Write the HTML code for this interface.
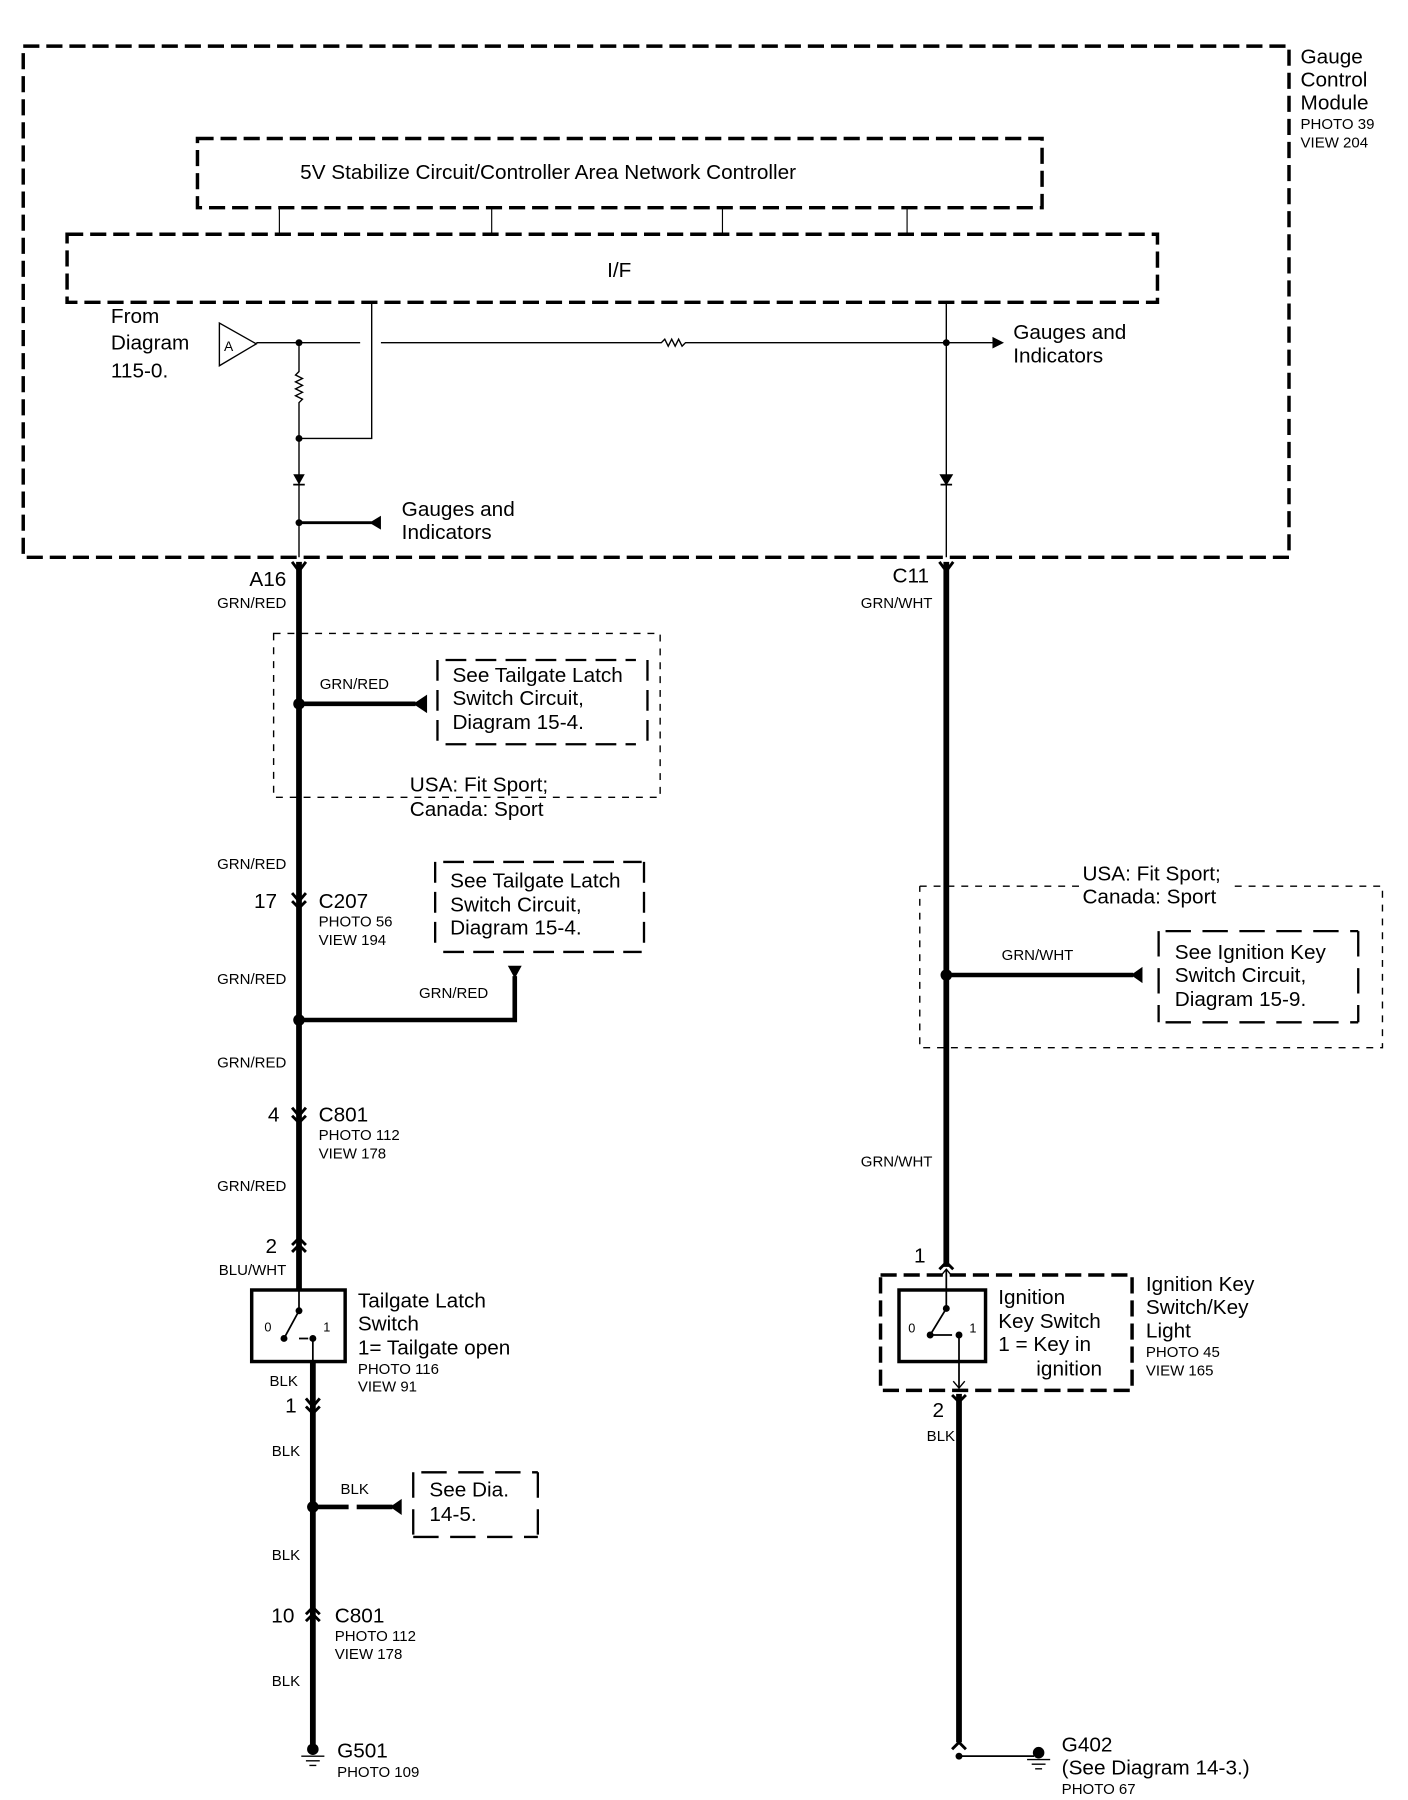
<!DOCTYPE html>
<html><head><meta charset="utf-8"><style>
html,body{margin:0;padding:0;background:#fff}
svg{display:block}
text{font-family:"Liberation Sans",sans-serif;fill:#000}
.b{font-size:18px}.s{font-size:13px}
</style></head><body>
<svg width="1408" height="1800" viewBox="0 0 1220 1560" xmlns="http://www.w3.org/2000/svg">
<g fill="none" stroke="#000">
<rect x="20" y="40" width="1097" height="443" stroke-width="3" stroke-dasharray="14,6"/>
<rect x="171" y="120" width="732" height="60" stroke-width="3" stroke-dasharray="14,6"/>
<rect x="58" y="203" width="945" height="59" stroke-width="3" stroke-dasharray="14,6"/>
<path d="M242 180V203M426 180V203M626 180V203M786 180V203" stroke-width="1"/>
<polygon points="190,280 190,317 222,298" stroke-width="1.2"/>
<path d="M222 297H312M330 297H573l3,-3 3,6 3,-6 3,6 3,-6 3,6 3,-3H860" stroke-width="1.2"/>
<path d="M259 297V322l-3,3 6,3 -6,3 6,3 -6,3 6,3 -6,3 6,3 -3,3V483" stroke-width="1.2"/>
<path d="M259 380H322V262" stroke-width="1.2"/>
<path d="M820 262V483" stroke-width="1.2"/>
<path d="M259 453H322" stroke-width="2.5"/>
<path d="M254 420H264M815 420H825" stroke-width="1.5"/>
</g>
<g fill="#000">
<circle cx="259" cy="297" r="3"/><circle cx="259" cy="380" r="3"/><circle cx="820" cy="297" r="3"/><circle cx="259" cy="453" r="3"/>
<polygon points="254,411 264,411 259,420"/><polygon points="814,411 826,411 820,421"/>
<polygon points="860,292 870,297 860,302"/>
<polygon points="320,453 330,447 330,459"/>
</g>
<text class="b" x="1127" y="55">Gauge</text><text class="b" x="1127" y="75">Control</text><text class="b" x="1127" y="95">Module</text>
<text class="s" x="1127" y="112">PHOTO 39</text><text class="s" x="1127" y="128">VIEW 204</text>
<text class="b" x="260" y="155">5V Stabilize Circuit/Controller Area Network Controller</text>
<text class="b" x="526" y="240">I/F</text>
<text class="b" x="96" y="280">From</text><text class="b" x="96" y="303">Diagram</text><text class="b" x="96" y="327">115-0.</text>
<text x="194" y="304" font-size="12">A</text>
<text class="b" x="878" y="294">Gauges and</text><text class="b" x="878" y="314">Indicators</text>
<text class="b" x="348" y="447">Gauges and</text><text class="b" x="348" y="467">Indicators</text>

<g fill="none" stroke="#000">
<path d="M259 487V1118" stroke-width="5"/>
<path d="M253 487l6,8 6,-8" stroke-width="2.5"/>
<path d="M253 774l6,7 6,-7M253 781l6,6 6,-6" stroke-width="2.5"/>
<path d="M253 960l6,7 6,-7M253 967l6,6 6,-6" stroke-width="2.5"/>
<path d="M253 1079l6,-6 6,6M253 1085l6,-6 6,6" stroke-width="2.5"/>
<rect x="237" y="549" width="335" height="142" stroke-width="1.2" stroke-dasharray="6,6"/>
<path d="M259 610H360" stroke-width="4"/>
<path d="M379 572V645M561 572V645M386 572H551M386 645H551" stroke-width="2" stroke-dasharray="18,8"/>
<path d="M377 747V825M558 747V825M384 747H556M384 825H556" stroke-width="2" stroke-dasharray="18,8"/>
<path d="M259 884H446V846" stroke-width="4"/>
<rect x="218" y="1118" width="81" height="62" stroke-width="3"/>
<path d="M259 1118V1136L246 1160M259 1160H267M271 1160V1180" stroke-width="1.5"/>
<path d="M271 1180V1512" stroke-width="5"/>
<path d="M265 1212l6,7 6,-7M265 1219l6,6 6,-6" stroke-width="2.5"/>
<path d="M265 1399l6,-6 6,6M265 1405l6,-6 6,6" stroke-width="2.5"/>
<path d="M271 1306H302M309 1306H340" stroke-width="4"/>
<path d="M358 1276V1332M466 1276V1332M365 1276H466M358 1332H466" stroke-width="2" stroke-dasharray="22,10"/>
<path d="M261 1522H281M265 1526H277M268 1530H274" stroke-width="1.2"/>
</g>
<g fill="#000">
<circle cx="259" cy="610" r="5"/><circle cx="259" cy="884" r="5"/><circle cx="271" cy="1306" r="5"/>
<polygon points="358,610 370,602 370,618"/>
<polygon points="440,837 452,837 446,848"/>
<polygon points="338,1306 348,1299 348,1313"/>
<circle cx="259" cy="1136" r="3"/><circle cx="246" cy="1160" r="3"/><circle cx="271" cy="1160" r="3"/>
<circle cx="271" cy="1516" r="5"/>
</g>
<text class="s" x="248" y="527" text-anchor="end">GRN/RED</text>
<text class="s" x="277" y="597">GRN/RED</text>
<text class="s" x="248" y="753" text-anchor="end">GRN/RED</text>
<text class="s" x="248" y="853" text-anchor="end">GRN/RED</text>
<text class="s" x="363" y="865">GRN/RED</text>
<text class="s" x="248" y="925" text-anchor="end">GRN/RED</text>
<text class="s" x="248" y="1032" text-anchor="end">GRN/RED</text>
<text class="s" x="248" y="1105" text-anchor="end">BLU/WHT</text>
<text class="s" x="258" y="1201" text-anchor="end">BLK</text>
<text class="s" x="260" y="1262" text-anchor="end">BLK</text>
<text class="s" x="295" y="1295">BLK</text>
<text class="s" x="260" y="1352" text-anchor="end">BLK</text>
<text class="s" x="260" y="1461" text-anchor="end">BLK</text>
<text class="s" x="276" y="803">PHOTO 56</text><text class="s" x="276" y="819">VIEW 194</text>
<text class="s" x="276" y="988">PHOTO 112</text><text class="s" x="276" y="1004">VIEW 178</text>
<text class="s" x="310" y="1191">PHOTO 116</text><text class="s" x="310" y="1206">VIEW 91</text>
<text class="s" x="290" y="1422">PHOTO 112</text><text class="s" x="290" y="1438">VIEW 178</text>
<text class="s" x="292" y="1540">PHOTO 109</text>
<text x="229" y="1154" font-size="11">0</text><text x="280" y="1154" font-size="11">1</text>
<text class="b" x="248" y="508" text-anchor="end">A16</text>
<text class="b" x="392" y="591">See Tailgate Latch</text><text class="b" x="392" y="611">Switch Circuit,</text><text class="b" x="392" y="632">Diagram 15-4.</text>
<text class="b" x="355" y="686">USA: Fit Sport;</text><text class="b" x="355" y="707">Canada: Sport</text>
<text class="b" x="240" y="787" text-anchor="end">17</text><text class="b" x="276" y="787">C207</text>
<text class="b" x="390" y="769">See Tailgate Latch</text><text class="b" x="390" y="790">Switch Circuit,</text><text class="b" x="390" y="810">Diagram 15-4.</text>
<text class="b" x="242" y="972" text-anchor="end">4</text><text class="b" x="276" y="972">C801</text>
<text class="b" x="240" y="1086" text-anchor="end">2</text>
<text class="b" x="310" y="1133">Tailgate Latch</text><text class="b" x="310" y="1153">Switch</text><text class="b" x="310" y="1174">1= Tailgate open</text>
<text class="b" x="257" y="1224" text-anchor="end">1</text>
<text class="b" x="372" y="1297">See Dia.</text><text class="b" x="372" y="1318">14-5.</text>
<text class="b" x="255" y="1406" text-anchor="end">10</text><text class="b" x="290" y="1406">C801</text>
<text class="b" x="292" y="1523">G501</text>

<g fill="none" stroke="#000">
<path d="M820 487V1098" stroke-width="5"/>
<path d="M814 487l6,8 6,-8" stroke-width="2.5"/>
<path d="M814 1100l6,-6 6,6" stroke-width="2.5"/>
<path d="M797 768H935M1070 768H1198V908H797V768" stroke-width="1.2" stroke-dasharray="6,6"/>
<path d="M820 845H982" stroke-width="4"/>
<path d="M1004 807V886M1177 807V886M1010 807H1177M1010 886H1177" stroke-width="2" stroke-dasharray="22,10"/>
<rect x="763" y="1105" width="218" height="100" stroke-width="3" stroke-dasharray="14,6"/>
<rect x="779" y="1118" width="75" height="62" stroke-width="3"/>
<path d="M820 1100V1134L806 1157M806 1157H825M831 1157V1203" stroke-width="1.5"/>
<path d="M815 1106l5,-6 5,6M826 1197l5,6 5,-6" stroke-width="1.2"/>
<path d="M831 1208V1510" stroke-width="5"/>
<path d="M825 1209l6,6 6,-6" stroke-width="2.5"/>
<path d="M825 1516l6,-6 6,6" stroke-width="2.5"/>
<path d="M831 1522H896" stroke-width="1.5"/>
<path d="M890 1525H910M894 1529H906M897 1533H903" stroke-width="1.2"/>
</g>
<g fill="#000">
<circle cx="820" cy="845" r="5"/>
<polygon points="980,845 990,838 990,852"/>
<circle cx="820" cy="1134" r="3"/><circle cx="806" cy="1157" r="3"/><circle cx="831" cy="1157" r="3"/>
<circle cx="831" cy="1522" r="3"/><circle cx="900" cy="1519" r="5"/>
</g>
<text class="b" x="805" y="505" text-anchor="end">C11</text>
<text class="s" x="808" y="527" text-anchor="end">GRN/WHT</text>
<text class="b" x="938" y="763">USA: Fit Sport;</text><text class="b" x="938" y="783">Canada: Sport</text>
<text class="s" x="868" y="832">GRN/WHT</text>
<text class="b" x="1018" y="831">See Ignition Key</text><text class="b" x="1018" y="851">Switch Circuit,</text><text class="b" x="1018" y="872">Diagram 15-9.</text>
<text class="s" x="808" y="1011" text-anchor="end">GRN/WHT</text>
<text class="b" x="802" y="1094" text-anchor="end">1</text>
<text x="787" y="1155" font-size="11">0</text><text x="840" y="1155" font-size="11">1</text>
<text class="b" x="865" y="1130">Ignition</text><text class="b" x="865" y="1151">Key Switch</text><text class="b" x="865" y="1171">1 = Key in</text><text class="b" x="898" y="1192">ignition</text>
<text class="b" x="993" y="1119">Ignition Key</text><text class="b" x="993" y="1139">Switch/Key</text><text class="b" x="993" y="1159">Light</text>
<text class="s" x="993" y="1176">PHOTO 45</text><text class="s" x="993" y="1192">VIEW 165</text>
<text class="b" x="818" y="1228" text-anchor="end">2</text>
<text class="s" x="803" y="1249">BLK</text>
<text class="b" x="920" y="1518">G402</text>
<text class="b" x="920" y="1538">(See Diagram 14-3.)</text>
<text class="s" x="920" y="1555">PHOTO 67</text>
</svg>
</body></html>
